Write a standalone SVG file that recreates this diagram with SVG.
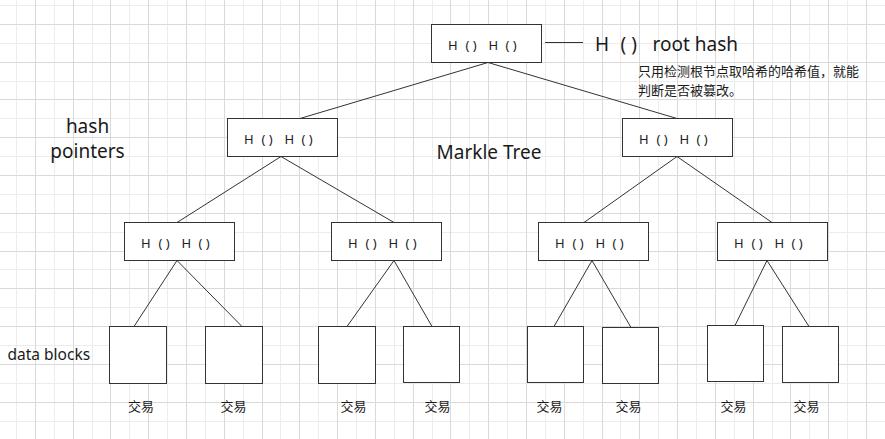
<svg xmlns="http://www.w3.org/2000/svg" width="885" height="439" viewBox="0 0 885 439">
<style>
.gl{stroke:#ececec;stroke-width:1;fill:none}
.gd{stroke:#dadada;stroke-width:1;fill:none}
.box{fill:#fff;stroke:#333;stroke-width:1}
.edge{stroke:#333;stroke-width:1;fill:none}
.nt{font-family:"Noto Sans","Liberation Sans",sans-serif;font-size:13px;fill:#222}
.big{font-family:"Noto Sans","Liberation Sans",sans-serif;font-size:19px;fill:#1a1a1a}
.cn{font-family:"Noto Sans CJK SC","Noto Sans",sans-serif;font-size:13px;fill:#1a1a1a}
</style>
<rect x="0" y="0" width="885" height="439" fill="#fff"/>
<g id="grid">
<path class="gl" d="M16.5 0v439M54.5 0v439M92.5 0v439M129.5 0v439M167.5 0v439M205.5 0v439M243.5 0v439M280.5 0v439M318.5 0v439M356.5 0v439M394.5 0v439M432.5 0v439M469.5 0v439M507.5 0v439M545.5 0v439M583.5 0v439M620.5 0v439M658.5 0v439M696.5 0v439M734.5 0v439M772.5 0v439M809.5 0v439M847.5 0v439M0 5.5h885M0 43.5h885M0 81.5h885M0 118.5h885M0 156.5h885M0 194.5h885M0 232.5h885M0 269.5h885M0 307.5h885M0 345.5h885M0 383.5h885M0 421.5h885"/>
<path class="gd" d="M35.5 0v439M73.5 0v439M110.5 0v439M148.5 0v439M186.5 0v439M224.5 0v439M262.5 0v439M299.5 0v439M337.5 0v439M375.5 0v439M413.5 0v439M450.5 0v439M488.5 0v439M526.5 0v439M564.5 0v439M602.5 0v439M639.5 0v439M677.5 0v439M715.5 0v439M753.5 0v439M790.5 0v439M828.5 0v439M866.5 0v439M0 24.5h885M0 62.5h885M0 99.5h885M0 137.5h885M0 175.5h885M0 213.5h885M0 251.5h885M0 288.5h885M0 326.5h885M0 364.5h885M0 402.5h885"/>
</g>
<g id="connectors">
<path class="edge" d="M488 62.5L300 118.5M488 62.5L677 118.5M281 156.5L177 222.5M281 156.5L394 222.5M677 156.5L584 222.5M677 156.5L772 222.5M177 260.5L134 326.5M177 260.5L242 326.5M394 260.5L347 326.5M394 260.5L432 326.5M592 260.5L554 326.5M592 260.5L631 327.5M767 260.5L735 325.5M767 260.5L809 326.5M545 42.5H583"/>
</g>
<g id="root">
<rect class="box" x="431.5" y="24.5" width="110" height="38"/>
<text class="nt" y="50"><tspan x="448">H</tspan><tspan x="465.5">( )</tspan><tspan x="488.5">H</tspan><tspan x="505.5">( )</tspan></text>
</g>
<g id="n2a">
<rect class="box" x="227.5" y="118.5" width="110" height="38"/>
<text class="nt" y="144"><tspan x="244">H</tspan><tspan x="261.5">( )</tspan><tspan x="284.5">H</tspan><tspan x="301.5">( )</tspan></text>
</g>
<g id="n2b">
<rect class="box" x="622.5" y="118.5" width="110" height="38"/>
<text class="nt" y="144"><tspan x="639">H</tspan><tspan x="656.5">( )</tspan><tspan x="679.5">H</tspan><tspan x="696.5">( )</tspan></text>
</g>
<g id="n3a">
<rect class="box" x="124.5" y="222.5" width="110" height="38"/>
<text class="nt" y="248"><tspan x="141">H</tspan><tspan x="158.5">( )</tspan><tspan x="181.5">H</tspan><tspan x="198.5">( )</tspan></text>
</g>
<g id="n3b">
<rect class="box" x="331.5" y="222.5" width="110" height="38"/>
<text class="nt" y="248"><tspan x="348">H</tspan><tspan x="365.5">( )</tspan><tspan x="388.5">H</tspan><tspan x="405.5">( )</tspan></text>
</g>
<g id="n3c">
<rect class="box" x="538.5" y="222.5" width="110" height="38"/>
<text class="nt" y="248"><tspan x="555">H</tspan><tspan x="572.5">( )</tspan><tspan x="595.5">H</tspan><tspan x="612.5">( )</tspan></text>
</g>
<g id="n3d">
<rect class="box" x="717.5" y="222.5" width="110" height="38"/>
<text class="nt" y="248"><tspan x="734">H</tspan><tspan x="751.5">( )</tspan><tspan x="774.5">H</tspan><tspan x="791.5">( )</tspan></text>
</g>
<g id="leaf1"><rect class="box" x="109.5" y="326.5" width="57" height="57"/><text class="cn" x="141" y="411" text-anchor="middle">交易</text></g>
<g id="leaf2"><rect class="box" x="205.5" y="326.5" width="57" height="57"/><text class="cn" x="233.5" y="411" text-anchor="middle">交易</text></g>
<g id="leaf3"><rect class="box" x="318.5" y="326.5" width="57" height="57"/><text class="cn" x="353.5" y="411" text-anchor="middle">交易</text></g>
<g id="leaf4"><rect class="box" x="403.5" y="326.5" width="56" height="56"/><text class="cn" x="437.5" y="411" text-anchor="middle">交易</text></g>
<g id="leaf5"><rect class="box" x="527.5" y="326.5" width="56" height="56"/><text class="cn" x="549.5" y="411" text-anchor="middle">交易</text></g>
<g id="leaf6"><rect class="box" x="602.5" y="327.5" width="56" height="56"/><text class="cn" x="628.5" y="411" text-anchor="middle">交易</text></g>
<g id="leaf7"><rect class="box" x="707.5" y="325.5" width="56" height="56"/><text class="cn" x="733.5" y="411" text-anchor="middle">交易</text></g>
<g id="leaf8"><rect class="box" x="782.5" y="326.5" width="56" height="56"/><text class="cn" x="806.5" y="411" text-anchor="middle">交易</text></g>
<g id="labels">
<text class="big" y="51"><tspan x="595">H</tspan><tspan x="620.5">( )</tspan><tspan x="652.5">root hash</tspan></text>
<text class="cn" x="638" y="76">只用检测根节点取哈希的哈希值，就能</text>
<text class="cn" x="638" y="94.5">判断是否被篡改。</text>
<text class="big" x="87.5" y="132.5" text-anchor="middle">hash</text>
<text class="big" x="87.5" y="157.5" text-anchor="middle">pointers</text>
<text class="big" x="436.5" y="158.5">Markle Tree</text>
<text class="big" x="7.5" y="360" style="font-size:15.5px">data blocks</text>
</g>
</svg>
